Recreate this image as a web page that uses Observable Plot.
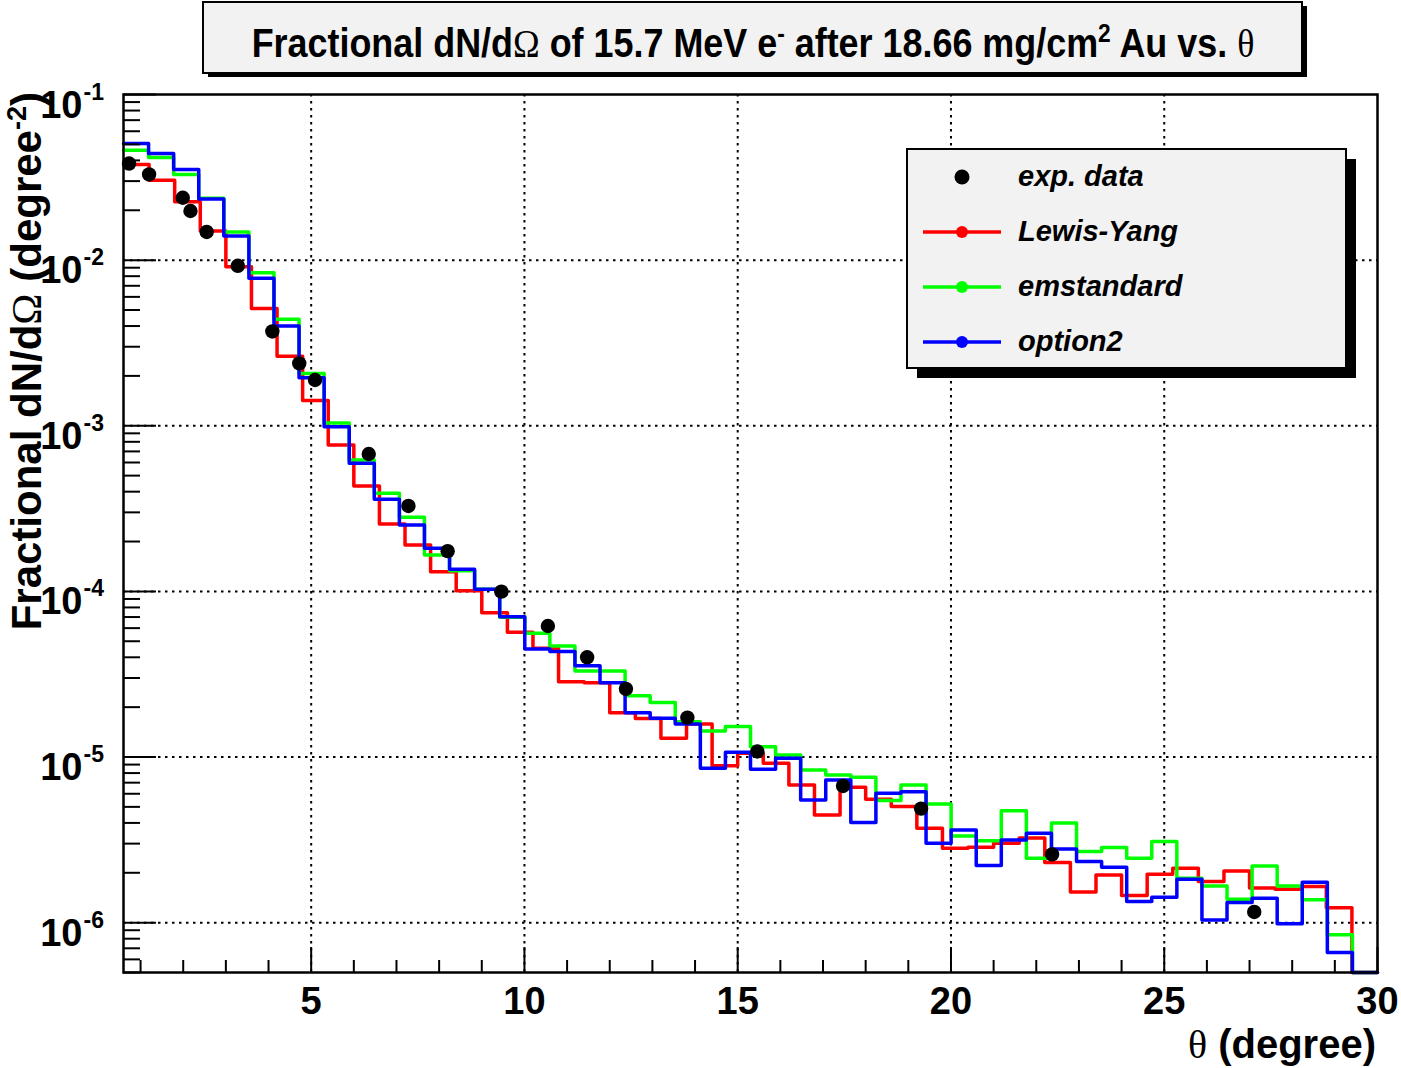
<!DOCTYPE html>
<html>
<head>
<meta charset="utf-8">
<script src="https://cdn.jsdelivr.net/npm/d3@7"></script>
<script src="https://cdn.jsdelivr.net/npm/@observablehq/plot@0.6"></script>
<style>
  html, body { margin: 0; padding: 0; background: #ffffff; }
  #wrap { position: relative; width: 1401px; height: 1068px; font-family: "Liberation Sans", Arial, sans-serif; }
  #wrap > svg { position: absolute; left: 0; top: 0; }
</style>
</head>
<body>
<div id="wrap"></div>
<script>
// ---- Histogram definitions -------------------------------------------------
// Geant4 models: 50 bins spanning [0.6, 30] degrees
const simLow = 0.6, simHigh = 30, simBins = 50;
// Lewis-Yang: bins of 0.6 degree, first visible bin starts at 0.6
const lyLow = 0.6, lyWidth = 0.6;

// Measured points (theta in degree, fractional dN/dOmega in degree^-2)
const expTheta = [0.73, 1.20, 1.99, 2.17, 2.55, 3.28, 4.09, 4.72, 5.09, 6.35, 7.28,
  8.20, 9.46, 10.55, 11.47, 12.38, 13.82, 15.46, 17.47, 19.30, 22.37, 27.11];
const expValue = [0.0383, 0.0329, 0.0238, 0.0198, 0.0148, 0.00924, 0.00371, 0.00238, 0.00189,
  6.75e-4, 3.28e-4, 1.75e-4, 9.96e-5, 6.18e-5, 4.00e-5, 2.58e-5, 1.73e-5, 1.08e-5,
  6.69e-6, 4.88e-6, 2.58e-6, 1.16e-6];

// Lewis-Yang bin contents (bins of 0.6 degree from 0.6 to 30)
const lewisYang = [0.0378, 0.0304, 0.0225, 0.0150, 0.00911, 0.00511, 0.00263, 0.00142, 7.65e-4,
  4.33e-4, 2.55e-4, 1.905e-4, 1.315e-4, 1.01e-4, 7.44e-5, 5.66e-5, 4.53e-5, 2.85e-5, 2.81e-5,
  1.85e-5, 1.71e-5, 1.30e-5, 1.58e-5, 8.87e-6, 1.054e-5, 9.18e-6, 6.78e-6, 4.47e-6, 6.57e-6,
  5.56e-6, 5.02e-6, 3.72e-6, 2.81e-6, 2.85e-6, 3.02e-6, 3.24e-6, 2.31e-6, 1.53e-6, 1.94e-6,
  1.46e-6, 1.96e-6, 2.13e-6, 1.77e-6, 2.05e-6, 1.62e-6, 1.59e-6, 1.65e-6, 1.23e-6, 0];

// emstandard bin contents (50 bins from 0.6 to 30)
const emstandard = [0.0461, 0.0417, 0.0329, 0.0236, 0.0148, 0.00838, 0.00439, 0.00207, 0.00104, 6.21e-4,
  3.91e-4, 2.80e-4, 1.66e-4, 1.33e-4, 1.03e-4, 6.98e-5, 5.59e-5, 4.68e-5, 3.31e-5, 3.31e-5,
  2.34e-5, 2.13e-5, 1.635e-5, 1.437e-5, 1.526e-5, 1.155e-5, 1.03e-5, 8.36e-6, 7.80e-6, 7.55e-6,
  5.46e-6, 6.78e-6, 5.21e-6, 3.34e-6, 3.12e-6, 4.73e-6, 2.45e-6, 3.99e-6, 2.69e-6, 2.84e-6,
  2.45e-6, 3.09e-6, 1.855e-6, 1.667e-6, 1.386e-6, 2.20e-6, 1.667e-6, 1.373e-6, 8.44e-7, 0];

// option2 bin contents (50 bins from 0.6 to 30)
const option2 = [0.0506, 0.0440, 0.0353, 0.0234, 0.0140, 0.00776, 0.00400, 0.00195, 9.86e-4, 5.93e-4,
  3.60e-4, 2.52e-4, 1.82e-4, 1.36e-4, 1.03e-4, 7.04e-5, 4.49e-5, 4.33e-5, 3.56e-5, 2.81e-5,
  1.853e-5, 1.714e-5, 1.584e-5, 8.56e-6, 1.069e-5, 8.44e-6, 9.83e-6, 5.51e-6, 7.27e-6, 4.02e-6,
  6.05e-6, 6.18e-6, 3.02e-6, 3.63e-6, 2.21e-6, 3.16e-6, 3.47e-6, 2.78e-6, 2.34e-6, 2.16e-6,
  1.341e-6, 1.425e-6, 1.830e-6, 1.039e-6, 1.322e-6, 1.405e-6, 9.83e-7, 1.755e-6, 6.60e-7, 0];

// Axis ticks
const xMajor = [5, 10, 15, 20, 25, 30];
const yMajor = [1e-6, 1e-5, 1e-4, 1e-3, 1e-2, 1e-1];
const yExponent = ["-6", "-5", "-4", "-3", "-2", "-1"];

const xDomain = [0.6, 30];
const yDomain = [5e-7, 0.1];

// ---- Build step outlines ---------------------------------------------------
function stepPoints(values, low, width) {
  const pts = values.map((v, i) => ({x: low + i * width, y: Math.max(v, yDomain[0])}));
  const last = pts[pts.length - 1];
  pts.push({x: low + values.length * width, y: last.y});
  return pts;
}
const simWidth = (simHigh - simLow) / simBins;
const lyPts = stepPoints(lewisYang, lyLow, lyWidth);
const emPts = stepPoints(emstandard, simLow, simWidth);
const o2Pts = stepPoints(option2, simLow, simWidth);
const expData = expTheta.map((t, i) => ({theta: t, value: expValue[i]}));

const xMinor = d3.range(1, 30).filter(v => v % 5 !== 0);
const yMinor = [];
for (let e = -7; e <= -2; e++) for (let m = 2; m <= 9; m++) {
  const v = m * Math.pow(10, e);
  if (v >= yDomain[0] * 0.999 && v < yDomain[1]) yMinor.push(v);
}

const W = 1401, H = 1068;
const mL = 123, mR = 24, mT = 94, mB = 96;
const frameW = W - mL - mR, frameH = H - mT - mB;
const gridStyle = {stroke: "black", strokeWidth: 2, strokeDasharray: "2.5,4.5"};

const chart = Plot.plot({
  width: W, height: H,
  marginLeft: mL, marginRight: mR, marginTop: mT, marginBottom: mB,
  x: {domain: xDomain, axis: null},
  y: {type: "log", domain: yDomain, axis: null},
  style: {background: "transparent", overflow: "visible", fontFamily: "Liberation Sans, Arial, sans-serif"},
  marks: [
    // dotted grid at major ticks
    Plot.ruleX(xMajor.filter(v => v < 30), gridStyle),
    Plot.ruleY(yMajor.filter(v => v < 0.1), gridStyle),
    // histograms
    Plot.line(lyPts, {x: "x", y: "y", curve: "step-after", stroke: "#ff0000", strokeWidth: 3.5}),
    Plot.line(emPts, {x: "x", y: "y", curve: "step-after", stroke: "#00ff00", strokeWidth: 3.5}),
    Plot.line(o2Pts, {x: "x", y: "y", curve: "step-after", stroke: "#0000ff", strokeWidth: 3.5}),
    // measured points
    Plot.dot(expData, {x: "theta", y: "value", r: 7.2, fill: "black", stroke: "none"}),
    // frame and inward ticks
    Plot.frame({stroke: "black", strokeWidth: 2.5}),
    Plot.ruleX(xMinor, {insetTop: frameH - 12, stroke: "black", strokeWidth: 2}),
    Plot.ruleX(xMajor, {insetTop: frameH - 25, stroke: "black", strokeWidth: 2}),
    Plot.ruleY(yMinor, {insetRight: frameW - 17, stroke: "black", strokeWidth: 2}),
    Plot.ruleY(yMajor, {insetRight: frameW - 33, stroke: "black", strokeWidth: 2}),
    // tick labels
    Plot.text(xMajor, {x: d => d, frameAnchor: "bottom", dy: 41, lineAnchor: "bottom",
      text: d => String(d), fontSize: 38, fontWeight: "bold", fill: "black"}),
    Plot.text(yMajor, {y: d => d, frameAnchor: "left", dx: -41, dy: 23, lineAnchor: "bottom",
      textAnchor: "end", text: () => "10", fontSize: 38, fontWeight: "bold", fill: "black"}),
    Plot.text(yMajor, {y: d => d, frameAnchor: "left", dx: -40, dy: 5, lineAnchor: "bottom",
      textAnchor: "start", text: (d, i) => yExponent[i], fontSize: 23, fontWeight: "bold", fill: "black"})
  ]
});

const wrap = document.getElementById("wrap");
wrap.appendChild(chart);

// ---- Title box, legend and axis titles -------------------------------------
const NS = "http://www.w3.org/2000/svg";
const over = d3.select(wrap).append("svg")
  .attr("xmlns", NS).attr("width", W).attr("height", H)
  .style("font-family", "Liberation Sans, Arial, sans-serif");

// title pave with shadow
over.append("rect").attr("x", 208).attr("y", 6).attr("width", 1099).attr("height", 71).attr("fill", "black");
over.append("rect").attr("x", 203).attr("y", 2).attr("width", 1099).attr("height", 71)
  .attr("fill", "#f2f2f2").attr("stroke", "black").attr("stroke-width", 2);
const title = over.append("text").attr("x", 0).attr("y", 0).attr("text-anchor", "middle")
  .attr("font-size", 41).attr("font-weight", "bold").attr("fill", "black");
title.append("tspan").text("Fractional dN/d");
title.append("tspan").attr("font-family", "Liberation Serif, serif").attr("font-weight", "normal").text("Ω");
title.append("tspan").text(" of 15.7 MeV e");
title.append("tspan").attr("dy", -15).attr("font-size", 26).text("-");
title.append("tspan").attr("dy", 15).text(" after 18.66 mg/cm");
title.append("tspan").attr("dy", -15).attr("font-size", 26).text("2");
title.append("tspan").attr("dy", 15).text(" Au vs. ");
title.append("tspan").attr("font-family", "Liberation Serif, serif").attr("font-weight", "normal").text("θ");
// condense the title horizontally to the pave's text width
const titleWidth = title.node().getComputedTextLength();
title.attr("transform", `translate(753,57) scale(${1003 / titleWidth},1)`);

// x axis title
const xt = over.append("text").attr("x", 1376).attr("y", 1058).attr("text-anchor", "end")
  .attr("font-size", 40).attr("font-weight", "bold").attr("fill", "black");
xt.append("tspan").attr("font-family", "Liberation Serif, serif").attr("font-weight", "normal").text("θ");
xt.append("tspan").text(" (degree)");

// y axis title
const yt = over.append("text").attr("transform", "translate(41,92) rotate(-90)").attr("text-anchor", "end")
  .attr("font-size", 42).attr("font-weight", "bold").attr("fill", "black");
yt.append("tspan").text("Fractional dN/d");
yt.append("tspan").attr("font-family", "Liberation Serif, serif").attr("font-weight", "normal").text("Ω");
yt.append("tspan").text(" (degree");
yt.append("tspan").attr("dy", -15).attr("font-size", 27).text("-2");
yt.append("tspan").attr("dy", 15).text(")");

// legend with shadow
over.append("rect").attr("x", 917).attr("y", 159).attr("width", 439).attr("height", 219).attr("fill", "black");
over.append("rect").attr("x", 907).attr("y", 149).attr("width", 439).attr("height", 219)
  .attr("fill", "#f2f2f2").attr("stroke", "black").attr("stroke-width", 2);
const entries = [
  {label: "exp. data", color: "black", line: false, y: 177},
  {label: "Lewis-Yang", color: "#ff0000", line: true, y: 232},
  {label: "emstandard", color: "#00ff00", line: true, y: 287},
  {label: "option2", color: "#0000ff", line: true, y: 342}
];
entries.forEach(e => {
  if (e.line) {
    over.append("line").attr("x1", 923).attr("x2", 1001).attr("y1", e.y).attr("y2", e.y)
      .attr("stroke", e.color).attr("stroke-width", 3.5);
    over.append("circle").attr("cx", 962).attr("cy", e.y).attr("r", 6).attr("fill", e.color);
  } else {
    over.append("circle").attr("cx", 962).attr("cy", e.y).attr("r", 7.5).attr("fill", "black");
  }
  over.append("text").attr("x", 1018).attr("y", e.y + 9).attr("font-size", 29)
    .attr("font-weight", "bold").attr("font-style", "italic").attr("fill", "black").text(e.label);
});
</script>
</body>
</html>
